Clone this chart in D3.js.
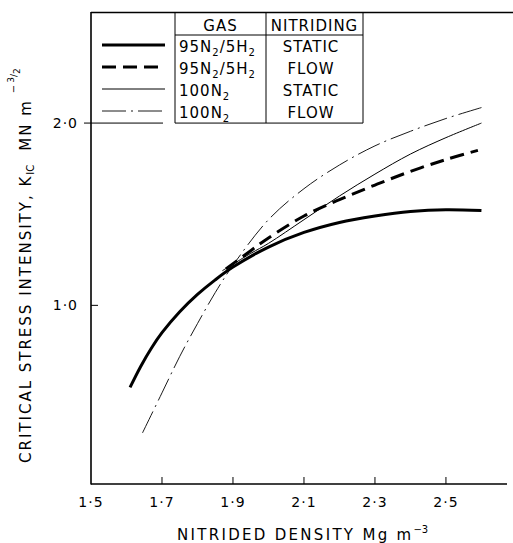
<!DOCTYPE html>
<html>
<head>
<meta charset="utf-8">
<script src="https://cdn.jsdelivr.net/npm/d3@7"></script>
<style>
  html, body { margin: 0; padding: 0; background: #fff; }
  svg { display: block; }
  text { font-family: "DejaVu Sans", sans-serif; fill: #000; }
</style>
</head>
<body>
<svg id="chart" width="513" height="543"></svg>
<script>
// ---- data ----
const xTicks = [1.5, 1.7, 1.9, 2.1, 2.3, 2.5];
const yTicks = [1.0, 2.0];

// 95N2/5H2, static nitriding (thick solid)
const h2StaticX = [1.61, 1.64, 1.67, 1.70, 1.75, 1.80, 1.85, 1.90, 2.0, 2.1, 2.2, 2.3, 2.4, 2.5, 2.6];
const h2StaticY = [0.55, 0.665, 0.765, 0.85, 0.965, 1.06, 1.14, 1.21, 1.32, 1.40, 1.455, 1.49, 1.515, 1.525, 1.52];

// 95N2/5H2, flow nitriding (thick dashed)
const h2FlowX = [1.88, 1.95, 2.0, 2.1, 2.2, 2.3, 2.4, 2.5, 2.59];
const h2FlowY = [1.20, 1.30, 1.37, 1.49, 1.58, 1.66, 1.735, 1.80, 1.85];

// 100N2, static nitriding (thin solid)
const n2StaticX = [1.87, 1.95, 2.0, 2.1, 2.2, 2.3, 2.4, 2.5, 2.6];
const n2StaticY = [1.19, 1.285, 1.34, 1.47, 1.60, 1.72, 1.83, 1.92, 2.00];

// 100N2, flow nitriding (thin dash-dot)
const n2FlowX = [1.645, 1.70, 1.75, 1.80, 1.85, 1.90, 2.0, 2.1, 2.2, 2.3, 2.4, 2.5, 2.6];
const n2FlowY = [0.30, 0.52, 0.72, 0.90, 1.07, 1.22, 1.47, 1.64, 1.77, 1.875, 1.955, 2.025, 2.085];

// legend table ("_" marks a subscript digit)
const gasLabels = ["95N_2/5H_2", "95N_2/5H_2", "100N_2", "100N_2"];
const nitridingLabels = ["STATIC", "FLOW", "STATIC", "FLOW"];

// ---- layout ----
const svg = d3.select("#chart");
const x = d3.scaleLinear().domain([1.5, 2.672]).range([91, 507]);
const y = d3.scaleLinear().domain([0.02, 2.6]).range([484, 13.7]);

const styles = [
  { xs: h2StaticX, ys: h2StaticY, width: 3, dash: null },
  { xs: h2FlowX, ys: h2FlowY, width: 3, dash: "14,7" },
  { xs: n2StaticX, ys: n2StaticY, width: 1, dash: null },
  { xs: n2FlowX, ys: n2FlowY, width: 0.9, dash: "24,5,2,5" },
];

// frame: left axis, bottom axis, top rule
const axisG = svg.append("g").attr("stroke", "#000").attr("fill", "none");
axisG.append("line").attr("x1", x(1.5)).attr("x2", x(1.5)).attr("y1", 12).attr("y2", 484.5).attr("stroke-width", 1.6);
axisG.append("line").attr("x1", x(1.5)).attr("x2", 507).attr("y1", 484).attr("y2", 484).attr("stroke-width", 1.6);
axisG.append("line").attr("x1", x(1.5)).attr("x2", 513).attr("y1", 12.5).attr("y2", 12.5).attr("stroke-width", 1.6);

// x ticks point inward (up)
axisG.selectAll("line.xt")
  .data(xTicks.filter((d) => d > 1.5))
  .join("line")
  .attr("class", "xt")
  .attr("x1", (d) => x(d)).attr("x2", (d) => x(d))
  .attr("y1", 484).attr("y2", 477)
  .attr("stroke-width", 1);

svg.append("g")
  .selectAll("text")
  .data(xTicks)
  .join("text")
  .attr("x", (d) => x(d))
  .attr("y", 507)
  .attr("text-anchor", "middle")
  .attr("font-size", 14)
  .attr("letter-spacing", 1)
  .text((d) => d3.format(".1f")(d).replace(".", "·"));

// y ticks: 1.0 inward, 2.0 outward (the legend rule carries on inside)
axisG.append("line").attr("x1", x(1.5)).attr("x2", x(1.5) + 7).attr("y1", y(1)).attr("y2", y(1)).attr("stroke-width", 1);
axisG.append("line").attr("x1", x(1.5) - 7).attr("x2", x(1.5)).attr("y1", y(2)).attr("y2", y(2)).attr("stroke-width", 1);

svg.append("g")
  .selectAll("text")
  .data(yTicks)
  .join("text")
  .attr("x", 78)
  .attr("y", (d) => y(d) + 5)
  .attr("text-anchor", "end")
  .attr("font-size", 14)
  .attr("letter-spacing", 1)
  .text((d) => d3.format(".1f")(d).replace(".", "·"));

// axis titles
const xTitle = svg.append("text")
  .attr("x", 177)
  .attr("y", 540)
  .attr("font-size", 15)
  .attr("letter-spacing", 2.3);
xTitle.append("tspan").text("NITRIDED DENSITY Mg m");
xTitle.append("tspan").attr("font-size", 10).attr("dy", -7).attr("letter-spacing", 0).text("−3");

const yTitle = svg.append("text")
  .attr("transform", "translate(31,463) rotate(-90)")
  .attr("font-size", 15)
  .attr("letter-spacing", 2);
yTitle.append("tspan").text("CRITICAL STRESS INTENSITY, K");
yTitle.append("tspan").attr("font-size", 10).attr("dy", 3).attr("letter-spacing", 0).text("IC");
yTitle.append("tspan").attr("dy", -3).attr("dx", 14).text("MN m");
yTitle.append("tspan").attr("font-size", 10).attr("dy", -14).attr("dx", 6).attr("letter-spacing", 0).text("−");
yTitle.append("tspan").attr("font-size", 9).attr("dy", -3).attr("dx", 2).attr("letter-spacing", 0).text("3");
yTitle.append("tspan").attr("font-size", 9).attr("dy", 3).attr("letter-spacing", 0).text("/");
yTitle.append("tspan").attr("font-size", 9).attr("dy", 3).attr("letter-spacing", 0).text("2");

// curves
const line = d3.line().curve(d3.curveCatmullRom.alpha(0.5));
svg.append("g")
  .selectAll("path")
  .data(styles)
  .join("path")
  .attr("fill", "none")
  .attr("stroke", "#000")
  .attr("stroke-width", (s) => s.width)
  .attr("stroke-dasharray", (s) => s.dash)
  .attr("stroke-linecap", "butt")
  .attr("d", (s) => line(s.xs.map((v, i) => [x(v), y(s.ys[i])])));

// legend table
const colSample = [102, 165];
const colGas = [175, 266];
const colNit = [266, 363];
const headerY = 35;
const rowH = 22;
const tableBottom = y(2);
const rowMid = (i) => headerY + rowH * i + rowH / 2;

const tab = svg.append("g").attr("stroke", "#000").attr("stroke-width", 1).attr("fill", "none");
tab.append("line").attr("x1", colGas[0]).attr("x2", colGas[0]).attr("y1", 12).attr("y2", tableBottom);
tab.append("line").attr("x1", colGas[1]).attr("x2", colGas[1]).attr("y1", 12).attr("y2", tableBottom);
tab.append("line").attr("x1", colNit[1]).attr("x2", colNit[1]).attr("y1", 12).attr("y2", tableBottom);
tab.append("line").attr("x1", colGas[0]).attr("x2", colNit[1]).attr("y1", headerY).attr("y2", headerY);
tab.append("line").attr("x1", x(1.5)).attr("x2", 163).attr("y1", tableBottom).attr("y2", tableBottom);
tab.append("line").attr("x1", colGas[0]).attr("x2", colNit[1]).attr("y1", tableBottom).attr("y2", tableBottom);

tab.selectAll("line.sample")
  .data(styles)
  .join("line")
  .attr("class", "sample")
  .attr("x1", colSample[0]).attr("x2", colSample[1])
  .attr("y1", (s, i) => rowMid(i) - 1).attr("y2", (s, i) => rowMid(i) - 1)
  .attr("stroke-width", (s) => s.width)
  .attr("stroke-dasharray", (s) => s.dash);

const head = svg.append("g").attr("font-size", 15).attr("text-anchor", "middle").attr("letter-spacing", 1);
head.append("text").attr("x", (colGas[0] + colGas[1]) / 2).attr("y", 31).text("GAS");
head.append("text").attr("x", (colNit[0] + colNit[1]) / 2).attr("y", 31).text("NITRIDING");

svg.append("g")
  .selectAll("text")
  .data(gasLabels)
  .join("text")
  .attr("x", 179)
  .attr("y", (d, i) => rowMid(i) + 6)
  .attr("font-size", 15)
  .attr("letter-spacing", 1)
  .each(function (d) {
    const t = d3.select(this);
    let back = 0; // undo the subscript drop on the next run of text
    d.split(/(_\d)/).filter((p) => p.length).forEach((p) => {
      if (p[0] === "_") {
        t.append("tspan").attr("font-size", 10).attr("dy", 4).text(p.slice(1));
        back = -4;
      } else {
        t.append("tspan").attr("dy", back).text(p);
        back = 0;
      }
    });
  });

svg.append("g")
  .selectAll("text")
  .data(nitridingLabels)
  .join("text")
  .attr("x", 311)
  .attr("y", (d, i) => rowMid(i) + 6)
  .attr("text-anchor", "middle")
  .attr("font-size", 15)
  .attr("letter-spacing", 1)
  .text((d) => d);
</script>
</body>
</html>
